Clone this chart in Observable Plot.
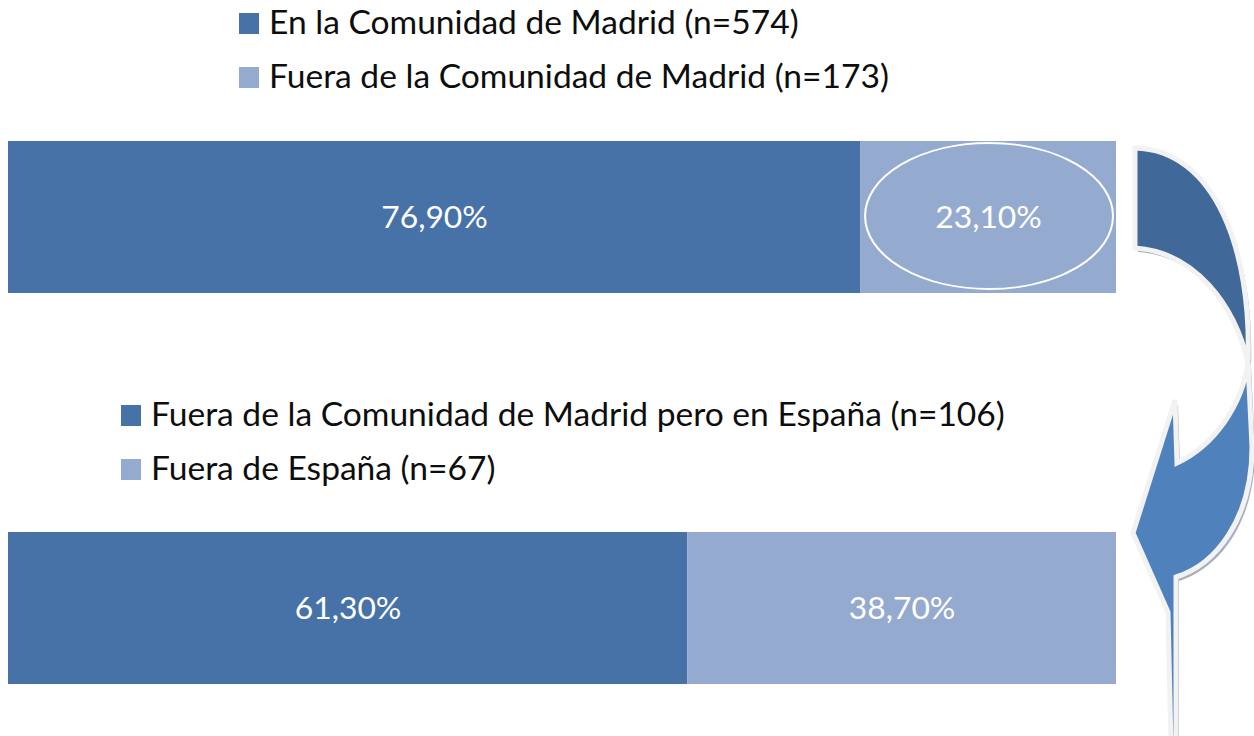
<!DOCTYPE html>
<html><head><meta charset="utf-8">
<script src="https://cdn.jsdelivr.net/npm/d3@7"></script>
<script src="https://cdn.jsdelivr.net/npm/@observablehq/plot@0.6"></script>
<style>
body{margin:0;background:#fff;}
#wrap{position:relative;width:1254px;height:736px;overflow:hidden;background:#fff;}
#wrap > svg{position:absolute;left:0;top:0;}
</style></head><body><div id="wrap"></div>
<script>
// ---- data ----
const rows = ["Lugar de residencia", "Fuera de la Comunidad de Madrid"];
const categories = [
  "En la Comunidad de Madrid (n=574)",
  "Fuera de la Comunidad de Madrid (n=173)",
  "Fuera de la Comunidad de Madrid pero en España (n=106)",
  "Fuera de España (n=67)"
];
const values = [76.9, 23.1, 61.3, 38.7];
const valueLabels = ["76,90%", "23,10%", "61,30%", "38,70%"];
const rowIndex = [0, 0, 1, 1];
const shades = ["dark", "light", "dark", "light"];
const highlighted = "Fuera de la Comunidad de Madrid (n=173)";

const data = categories.map((c, i) => ({
  row: rows[rowIndex[i]], cat: c, value: values[i], label: valueLabels[i], shade: shades[i]
}));

const FONT = "Lato, 'Open Sans', sans-serif";
const ctx = document.createElement("canvas").getContext("2d");
function fit(text, target) { ctx.font = `100px ${FONT}`; return 100 * target / ctx.measureText(text).width; }
const legendSize = (fit(categories[0], 529) + fit(categories[1], 620) + fit(categories[2], 856)) / 3;
const labelSize = (fit(valueLabels[0], 107) + fit(valueLabels[1], 106)) / 2;

const W = 1254, H = 736;
const chart = Plot.plot({
  width: W, height: H, margin: 0,
  x: {domain: [0, 100], range: [8, 1116], axis: null},
  y: {domain: rows, range: [140, 684], paddingInner: 0.612, paddingOuter: 0, axis: null},
  color: {domain: ["dark", "light"], range: ["#4672A7", "#95AACF"]},
  style: {fontFamily: FONT, background: "transparent", overflow: "visible"},
  marks: [
    Plot.barX(data, {x: "value", y: "row", fill: "shade"}),
    Plot.text(data, Plot.stackX({x: "value", y: "row", text: "label", fill: "white", fontSize: labelSize}))
  ]
});
document.getElementById("wrap").appendChild(chart);

const xs = chart.scale("x"), ys = chart.scale("y"), cs = chart.scale("color");
const svg = d3.select(chart);

// ellipse around highlighted segment
{
  const d = data.find(e => e.cat === highlighted);
  const before = d3.sum(data.filter(e => e.row === d.row && categories.indexOf(e.cat) < categories.indexOf(d.cat)), e => e.value);
  const x0 = xs.apply(before), x1 = xs.apply(before + d.value);
  const y0 = ys.apply(d.row), bw = ys.bandwidth;
  svg.insert("ellipse", "g[aria-label=text]")
    .attr("cx", (x0 + x1) / 2 + 1).attr("cy", y0 + bw / 2 - 1)
    .attr("rx", (x1 - x0) / 2 - 4).attr("ry", bw / 2 - 3)
    .attr("fill", "none").attr("stroke", "white").attr("stroke-width", 2);
}

// legends
const legendGroups = [
  {items: [0, 1], x: 239, y: [34, 88]},
  {items: [2, 3], x: 121, y: [426, 480]}
];
const lg = svg.append("g").attr("font-family", FONT).attr("font-size", legendSize).attr("fill", "#0d0d0d").attr("text-anchor", "start");
legendGroups.forEach(g => g.items.forEach((i, k) => {
  lg.append("rect").attr("x", g.x).attr("y", g.y[k] - 21).attr("width", 20).attr("height", 21).attr("fill", cs.apply(shades[i]));
  lg.append("text").attr("x", g.x + 30).attr("y", g.y[k]).attr("text-anchor", "start").text(categories[i]);
}));

// decorative curved arrow
const darkPath = "M1135,148 C1215,150 1252,250 1248,363 C1235,305 1195,252 1135,248 Z";
const lightPath = "M1248,363 L1252,447 C1252,520 1215,565 1176,577 L1176,745 L1171,745 L1168,612 L1133,533 L1175,400 L1177,463 C1215,445 1242,405 1248,363 Z";
const ag = svg.append("g");
[darkPath, lightPath].forEach(p => ag.append("path").attr("d", p).attr("transform", "translate(3,4)").attr("fill", "#8e9bb0").attr("opacity", 0.8));
ag.append("path").attr("d", darkPath).attr("fill", "#406898").attr("stroke", "#f2f2f2").attr("stroke-width", 5).attr("stroke-linejoin", "miter");
ag.append("path").attr("d", lightPath).attr("fill", "#4F81BD").attr("stroke", "#f2f2f2").attr("stroke-width", 5).attr("stroke-linejoin", "miter");
</script></body></html>
